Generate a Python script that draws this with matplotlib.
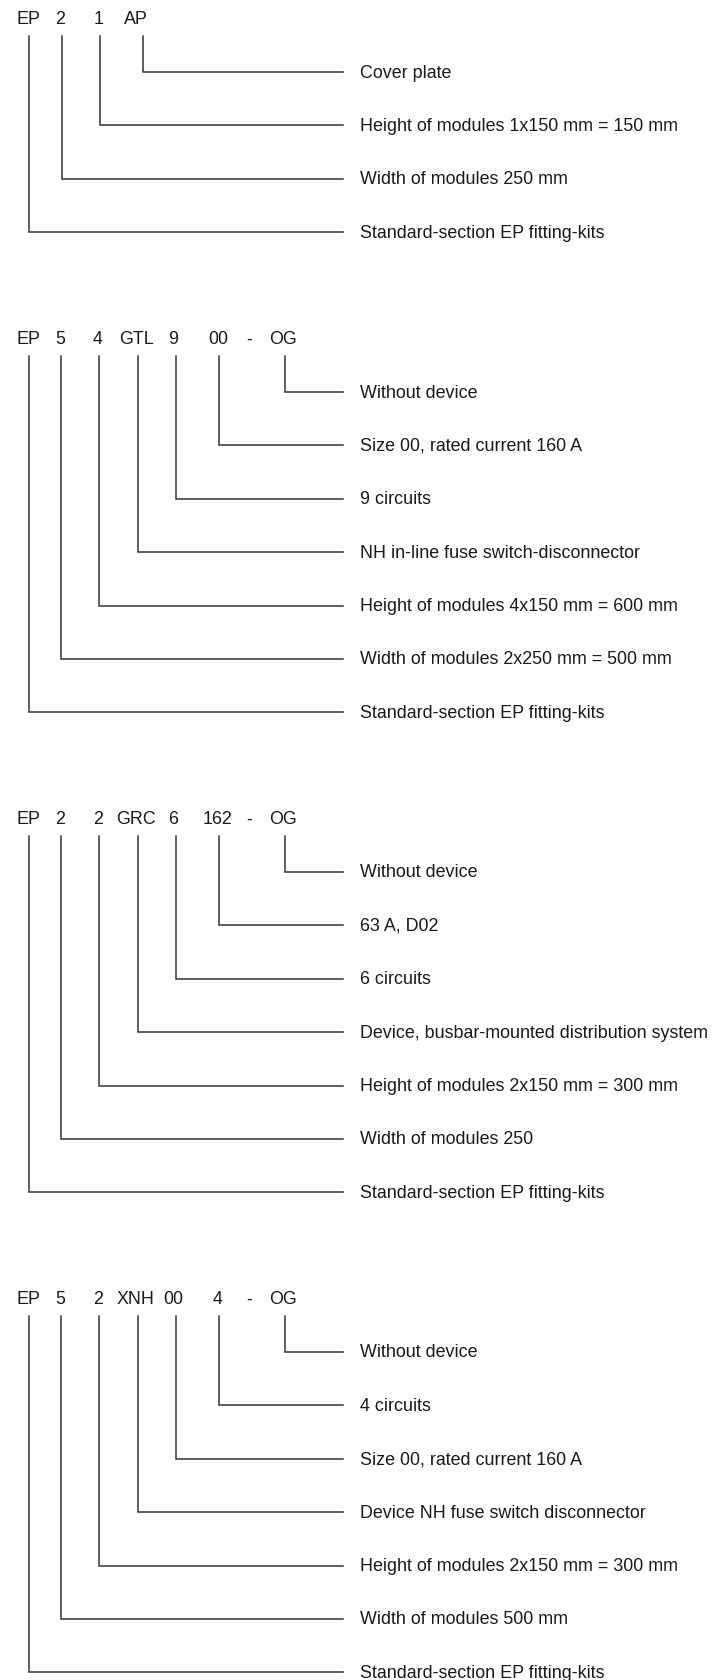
import matplotlib
matplotlib.use("Agg")
import matplotlib.pyplot as plt

# Type-code breakdowns: code tokens and the labels (top to bottom)
codes_1 = ["EP", "2", "1", "AP"]
labels_1 = ["Cover plate",
            "Height of modules 1x150 mm = 150 mm",
            "Width of modules 250 mm",
            "Standard-section EP fitting-kits"]

codes_2 = ["EP", "5", "4", "GTL", "9", "00", "-", "OG"]
labels_2 = ["Without device",
            "Size 00, rated current 160 A",
            "9 circuits",
            "NH in-line fuse switch-disconnector",
            "Height of modules 4x150 mm = 600 mm",
            "Width of modules 2x250 mm = 500 mm",
            "Standard-section EP fitting-kits"]

codes_3 = ["EP", "2", "2", "GRC", "6", "162", "-", "OG"]
labels_3 = ["Without device",
            "63 A, D02",
            "6 circuits",
            "Device, busbar-mounted distribution system",
            "Height of modules 2x150 mm = 300 mm",
            "Width of modules 250",
            "Standard-section EP fitting-kits"]

codes_4 = ["EP", "5", "2", "XNH", "00", "4", "-", "OG"]
labels_4 = ["Without device",
            "4 circuits",
            "Size 00, rated current 160 A",
            "Device NH fuse switch disconnector",
            "Height of modules 2x150 mm = 300 mm",
            "Width of modules 500 mm",
            "Standard-section EP fitting-kits"]

# layout (pixel coordinates)
W, H = 716, 1681
text_x_long = [29, 60, 98, 136, 173, 218, 249, 283]
line_x_long = [29, 61, 99, 138, 176, 219, None, 285]
text_x_short = [29, 60, 99, 136]
line_x_short = [29, 62, 100, 143]
block_y = [20, 340, 820, 1300]
row_step = 53.4
line_end = 343
label_x = 360
ink = "#1a1a1a"
line_col = "#333333"
fs = 12.9

fig = plt.figure(figsize=(W / 100, H / 100), dpi=100)
ax = fig.add_axes([0, 0, 1, 1])
ax.set_xlim(0, W)
ax.set_ylim(H, 0)
ax.axis("off")

blocks = [(codes_1, labels_1, text_x_short, line_x_short),
          (codes_2, labels_2, text_x_long, line_x_long),
          (codes_3, labels_3, text_x_long, line_x_long),
          (codes_4, labels_4, text_x_long, line_x_long)]

for (codes, labels, tx, lx), y0 in zip(blocks, block_y):
    for tok, x in zip(codes, tx):
        ax.text(x, y0, tok, ha="center", va="center", fontsize=fs,
                color=ink, family="Liberation Sans")
    # connected tokens, rightmost goes to first label
    linked = [x for tok, x in zip(codes, lx) if x is not None]
    for row, x in enumerate(reversed(linked)):
        y = y0 + 53 + row * row_step
        ax.plot([x, x, line_end], [y0 + 17, y, y], color=line_col,
                lw=1.1, solid_joinstyle="miter")
        ax.text(label_x, y, labels[row], ha="left", va="center", fontsize=fs,
                color=ink, family="Liberation Sans")

fig.savefig("out.png", dpi=100)
